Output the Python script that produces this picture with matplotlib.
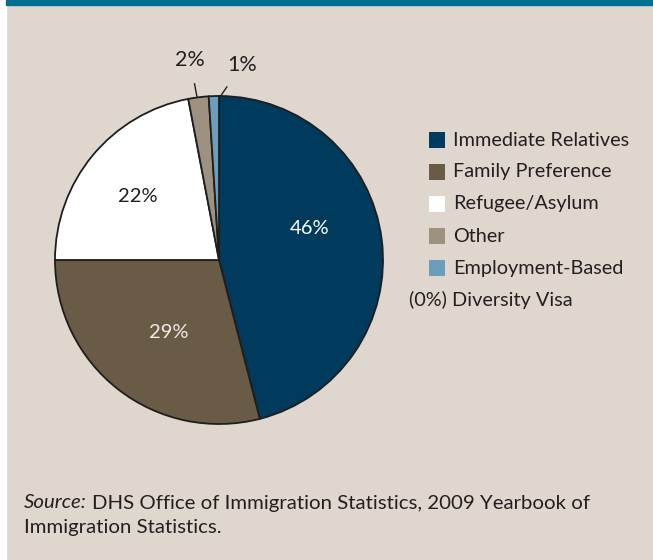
import matplotlib
matplotlib.use('Agg')
import matplotlib.pyplot as plt
from matplotlib.patches import Rectangle

plt.rcParams['font.family'] = ['Lato', 'DejaVu Sans']

labels = ['Immediate Relatives', 'Family Preference', 'Refugee/Asylum', 'Other', 'Employment-Based']
shares = [46, 29, 22, 2, 1]
colors = ['#003a5d', '#695b45', '#ffffff', '#9c927f', '#6b9dbd']
extra_label = '(0%) Diversity Visa'
source_lines = ['DHS Office of Immigration Statistics, 2009 Yearbook of', 'Immigration Statistics.']

W, H = 653, 560
bg = '#dfd7ce'
txt = '#231f20'

fig = plt.figure(figsize=(W / 100, H / 100), dpi=100)
fig.patch.set_facecolor(bg)

# white strip on the left and teal bar on top
fig.patches.append(Rectangle((0, 0), 6 / W, 1, transform=fig.transFigure, color='white', zorder=0))
fig.patches.append(Rectangle((6 / W, 1 - 5 / H), 1, 5 / H, transform=fig.transFigure, color='#006f8f', zorder=0))

cx, cy, r = 219, 260, 164
ax = fig.add_axes([(cx - r) / W, (H - cy - r) / H, 2 * r / W, 2 * r / H])
wedges, _ = ax.pie(shares, colors=colors, startangle=90, counterclock=False, radius=1,
                   wedgeprops=dict(edgecolor='#1e1e1e', linewidth=1.3))
ax.set_xlim(-1, 1)
ax.set_ylim(-1, 1)
ax.set_aspect('auto')
for w in wedges:
    w.set_clip_on(False)

# inside labels
inner_pos = [(0.555, 0.19), (-0.308, -0.445), (-0.497, 0.39)]
inner_col = ['white', '#f0ebe4', txt]
for i, (px, py) in enumerate(inner_pos):
    ax.text(px, py, f'{shares[i]}%', ha='center', va='center', fontsize=14.5, color=inner_col[i])

# outside labels with leader lines
ax.annotate(f'{shares[3]}%', xy=(-0.134, 0.994), xytext=(-0.177, 1.22), ha='center', va='center',
            fontsize=15.5, color=txt, annotation_clip=False,
            arrowprops=dict(arrowstyle='-', color=txt, lw=1, shrinkA=8, shrinkB=0))
ax.annotate(f'{shares[4]}%', xy=(0.006, 0.994), xytext=(0.14, 1.19), ha='center', va='center',
            fontsize=15.5, color=txt, annotation_clip=False,
            arrowprops=dict(arrowstyle='-', color=txt, lw=1, shrinkA=8, shrinkB=0))

# legend
for i, lab in enumerate(labels):
    y = 140 + 32 * i
    fig.patches.append(Rectangle((429 / W, 1 - (y + 8) / H), 16 / W, 16 / H, transform=fig.transFigure,
                                 facecolor=colors[i], edgecolor='none'))
    fig.text(453 / W, 1 - y / H, lab, ha='left', va='center', fontsize=14.3, color=txt)
fig.text(409 / W, 1 - 300 / H, extra_label, ha='left', va='center', fontsize=14.3, color=txt)

# source note
t1 = fig.text(24 / W, 1 - 503 / H, 'Source:', style='italic', ha='left', va='center', fontsize=14.7, color=txt)
fig.canvas.draw()
bb = t1.get_window_extent()
fig.text((bb.x1 + 5) / W, 1 - 503 / H, source_lines[0], ha='left', va='center', fontsize=14.7, color=txt)
fig.text(24 / W, 1 - 528 / H, source_lines[1], ha='left', va='center', fontsize=14.7, color=txt)

fig.savefig('out.png', dpi=100, facecolor=bg)
